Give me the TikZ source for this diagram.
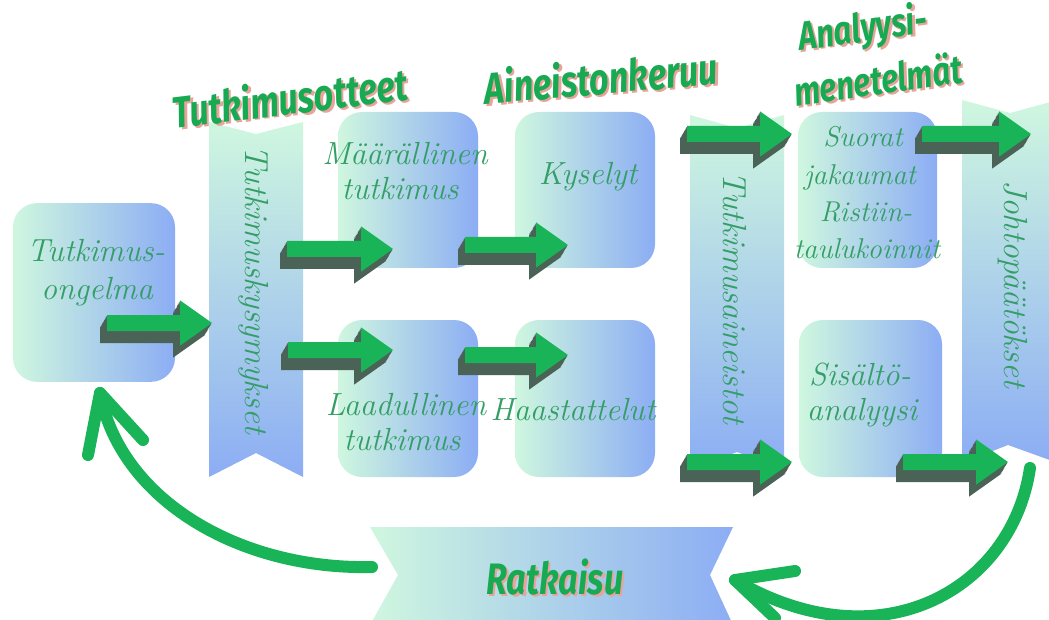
\documentclass[tikz,border=0pt]{standalone}
\usepackage{fontspec}
\newfontfamily\headfont{Fira Sans}[FakeStretch=0.78]
\usetikzlibrary{calc}

\definecolor{mint}{HTML}{CFF7DF}
\definecolor{sky}{HTML}{8CADF4}
\definecolor{arrgreen}{HTML}{19B458}
\definecolor{arrdark}{HTML}{4A6356}
\definecolor{txtgreen}{HTML}{339E65}
\definecolor{headgreen}{HTML}{17AA52}
\definecolor{headshadow}{HTML}{E8A49A}

% heading text with a soft red drop shadow behind it
\newcommand\shadowed[1]{%
  \rlap{\kern1.6pt\raisebox{-1.6pt}{\textcolor{headshadow}{#1}}}#1}

% thick 3D block arrow between two named coordinates (horizontal)
\newcommand\blockarrow[2]{%
  \foreach \s in {1,0.9,...,0}{%
    \fill[arrdark] let \p1=(#1), \p2=(#2),
        \n1={-5.25pt*\s}, \n2={-9pt*\s} in
      (\x1+\n1,\y1+6pt+\n2) -- (\x2-24pt+\n1,\y1+6pt+\n2) -- (\x2-24pt+\n1,\y1+17pt+\n2)
      -- (\x2+\n1,\y1+\n2) -- (\x2-24pt+\n1,\y1-17pt+\n2) -- (\x2-24pt+\n1,\y1-6pt+\n2)
      -- (\x1+\n1,\y1-6pt+\n2) -- cycle;}
  \fill[arrgreen] let \p1=(#1), \p2=(#2) in
    (\x1,\y1+6pt) -- (\x2-24pt,\y1+6pt) -- (\x2-24pt,\y1+17pt) -- (\x2,\y1)
    -- (\x2-24pt,\y1-17pt) -- (\x2-24pt,\y1-6pt) -- (\x1,\y1-6pt) -- cycle;
}

\begin{document}
\begin{tikzpicture}[x=0.75pt,y=-0.75pt,
  box/.style={draw=none, rounded corners=18pt, left color=mint, right color=sky, inner sep=0pt},
  scripttext/.style={text=txtgreen, inner sep=0pt, anchor=base,
    font=\fontsize{24}{28}\selectfont\itshape},
  smallscript/.style={scripttext, font=\fontsize{21.5}{26}\selectfont\itshape},
  ribbontext/.style={text=txtgreen, inner sep=0pt, rotate=-90,
    font=\fontsize{25}{28}\selectfont\itshape},
  headtext/.style={text=headgreen, inner sep=0pt,
    font=\headfont\bfseries\itshape\fontsize{33}{36}\selectfont},
  smallhead/.style={headtext, font=\headfont\bfseries\itshape\fontsize{30}{32}\selectfont},
  curve/.style={draw=arrgreen, line width=9pt, line cap=round, line join=round}]

\fill[white] (0,0) rectangle (1049,620);
\useasboundingbox (0,0) rectangle (1049,620);

% vertical ribbons
\shade[top color=mint, bottom color=sky]
  (209,122) -- (256,134) -- (303,122) -- (303,477) -- (256,453) -- (209,477) -- cycle;
\shade[top color=mint, bottom color=sky]
  (690,115) -- (737,128) -- (784,115) -- (784,470) -- (737,452) -- (690,470) -- cycle;
\shade[top color=mint, bottom color=sky]
  (962,100) -- (1010,113) -- (1058,100) -- (1058,463) -- (1008,445) -- (962,463) -- cycle;

% bottom banner
\shade[left color=mint, right color=sky]
  (370,527) -- (733,527) -- (710,575) -- (733,625) -- (370,625) -- (398,575) -- cycle;

% rounded boxes
\node[box, minimum width=121.5pt, minimum height=134pt] (ongelma) at (94,292.5) {};
\node[box, minimum width=105pt, minimum height=117pt] (maara) at (408,190) {};
\node[box, minimum width=105pt, minimum height=117pt] (kysely) at (585,190) {};
\node[box, minimum width=105pt, minimum height=117.75pt] (laatu) at (408,398.5) {};
\node[box, minimum width=105pt, minimum height=117.75pt] (haast) at (585,398.5) {};
\node[box, minimum width=104.25pt, minimum height=117pt] (suorat) at (867.5,190) {};
\node[box, minimum width=107.25pt, minimum height=117.75pt] (sisalto) at (870.5,398.5) {};

% block arrow end points
\coordinate (a1s) at (107,323);  \coordinate (a1e) at (212,323);
\coordinate (a2s) at (287,249);  \coordinate (a2e) at (393,249);
\coordinate (a3s) at (465,245);  \coordinate (a3e) at (568,245);
\coordinate (a4s) at (288,350);  \coordinate (a4e) at (393,350);
\coordinate (a5s) at (465,355);  \coordinate (a5e) at (568,355);
\coordinate (a6s) at (687,134);  \coordinate (a6e) at (792,134);
\coordinate (a7s) at (922,134);  \coordinate (a7e) at (1031,134);
\coordinate (a8s) at (687,462);  \coordinate (a8e) at (792,462);
\coordinate (a9s) at (903,462);  \coordinate (a9e) at (1008,462);

\blockarrow{a1s}{a1e}
\blockarrow{a2s}{a2e}
\blockarrow{a3s}{a3e}
\blockarrow{a4s}{a4e}
\blockarrow{a5s}{a5e}
\blockarrow{a6s}{a6e}
\blockarrow{a7s}{a7e}
\blockarrow{a8s}{a8e}
\blockarrow{a9s}{a9e}

% feedback curves
\coordinate (lstart) at (372,567);
\coordinate (ltip) at (100,393);
\coordinate (larmA) at (88,455);
\coordinate (larmB) at (143,440);
\draw[curve] (lstart) .. controls (240,570) and (120,500) .. (ltip);
\draw[curve] (larmA) -- (ltip) -- (larmB);

\coordinate (rstart) at (1030,468);
\coordinate (rtip) at (735,580);
\coordinate (rarmA) at (795,571);
\coordinate (rarmB) at (775,618);
\draw[curve] (rstart) .. controls (1012,590) and (880,665) .. (rtip);
\draw[curve] (rarmA) -- (rtip) -- (rarmB);

% box texts
\node[scripttext] (t1a) at (96,262) {Tutkimus-};
\node[scripttext] (t1b) at (97,300) {ongelma};
\node[scripttext] (t2a) at (405,165) {Määrällinen};
\node[scripttext] (t2b) at (400,200) {tutkimus};
\node[scripttext] (t3) at (588,185) {Kyselyt};
\node[scripttext] (t4a) at (406,415) {Laadullinen};
\node[scripttext] (t4b) at (402,450) {tutkimus};
\node[scripttext] (t5) at (573,420) {Haastattelut};
\node[smallscript] (t6a) at (863,147) {Suorat};
\node[smallscript] (t6b) at (860,185) {jakaumat};
\node[smallscript] (t6c) at (866,222) {Ristiin-};
\node[smallscript] (t6d) at (867,258) {taulukoinnit};
\node[scripttext] (t7a) at (860,385) {Sisältö-};
\node[scripttext] (t7b) at (862,420) {analyysi};

% ribbon texts
\node[ribbontext] (v1) at (254,290) {Tutkimuskysymykset};
\node[ribbontext] (v2) at (735,298) {Tutkimusaineistot};
\node[ribbontext] (v3) at (1013,284) {Johtopäätökset};

% headings
\node[headtext, rotate=7] (h1) at (290,98) {\shadowed{Tutkimusotteet}};
\node[headtext, rotate=5] (h2) at (601,78) {\shadowed{Aineistonkeruu}};
\node[smallhead, rotate=8] (h3) at (863,31) {\shadowed{Analyysi-}};
\node[smallhead, rotate=8] (h4) at (878,80) {\shadowed{menetelmät}};
\node[headtext] (h5) at (555,578) {\shadowed{Ratkaisu}};
\end{tikzpicture}
\end{document}
